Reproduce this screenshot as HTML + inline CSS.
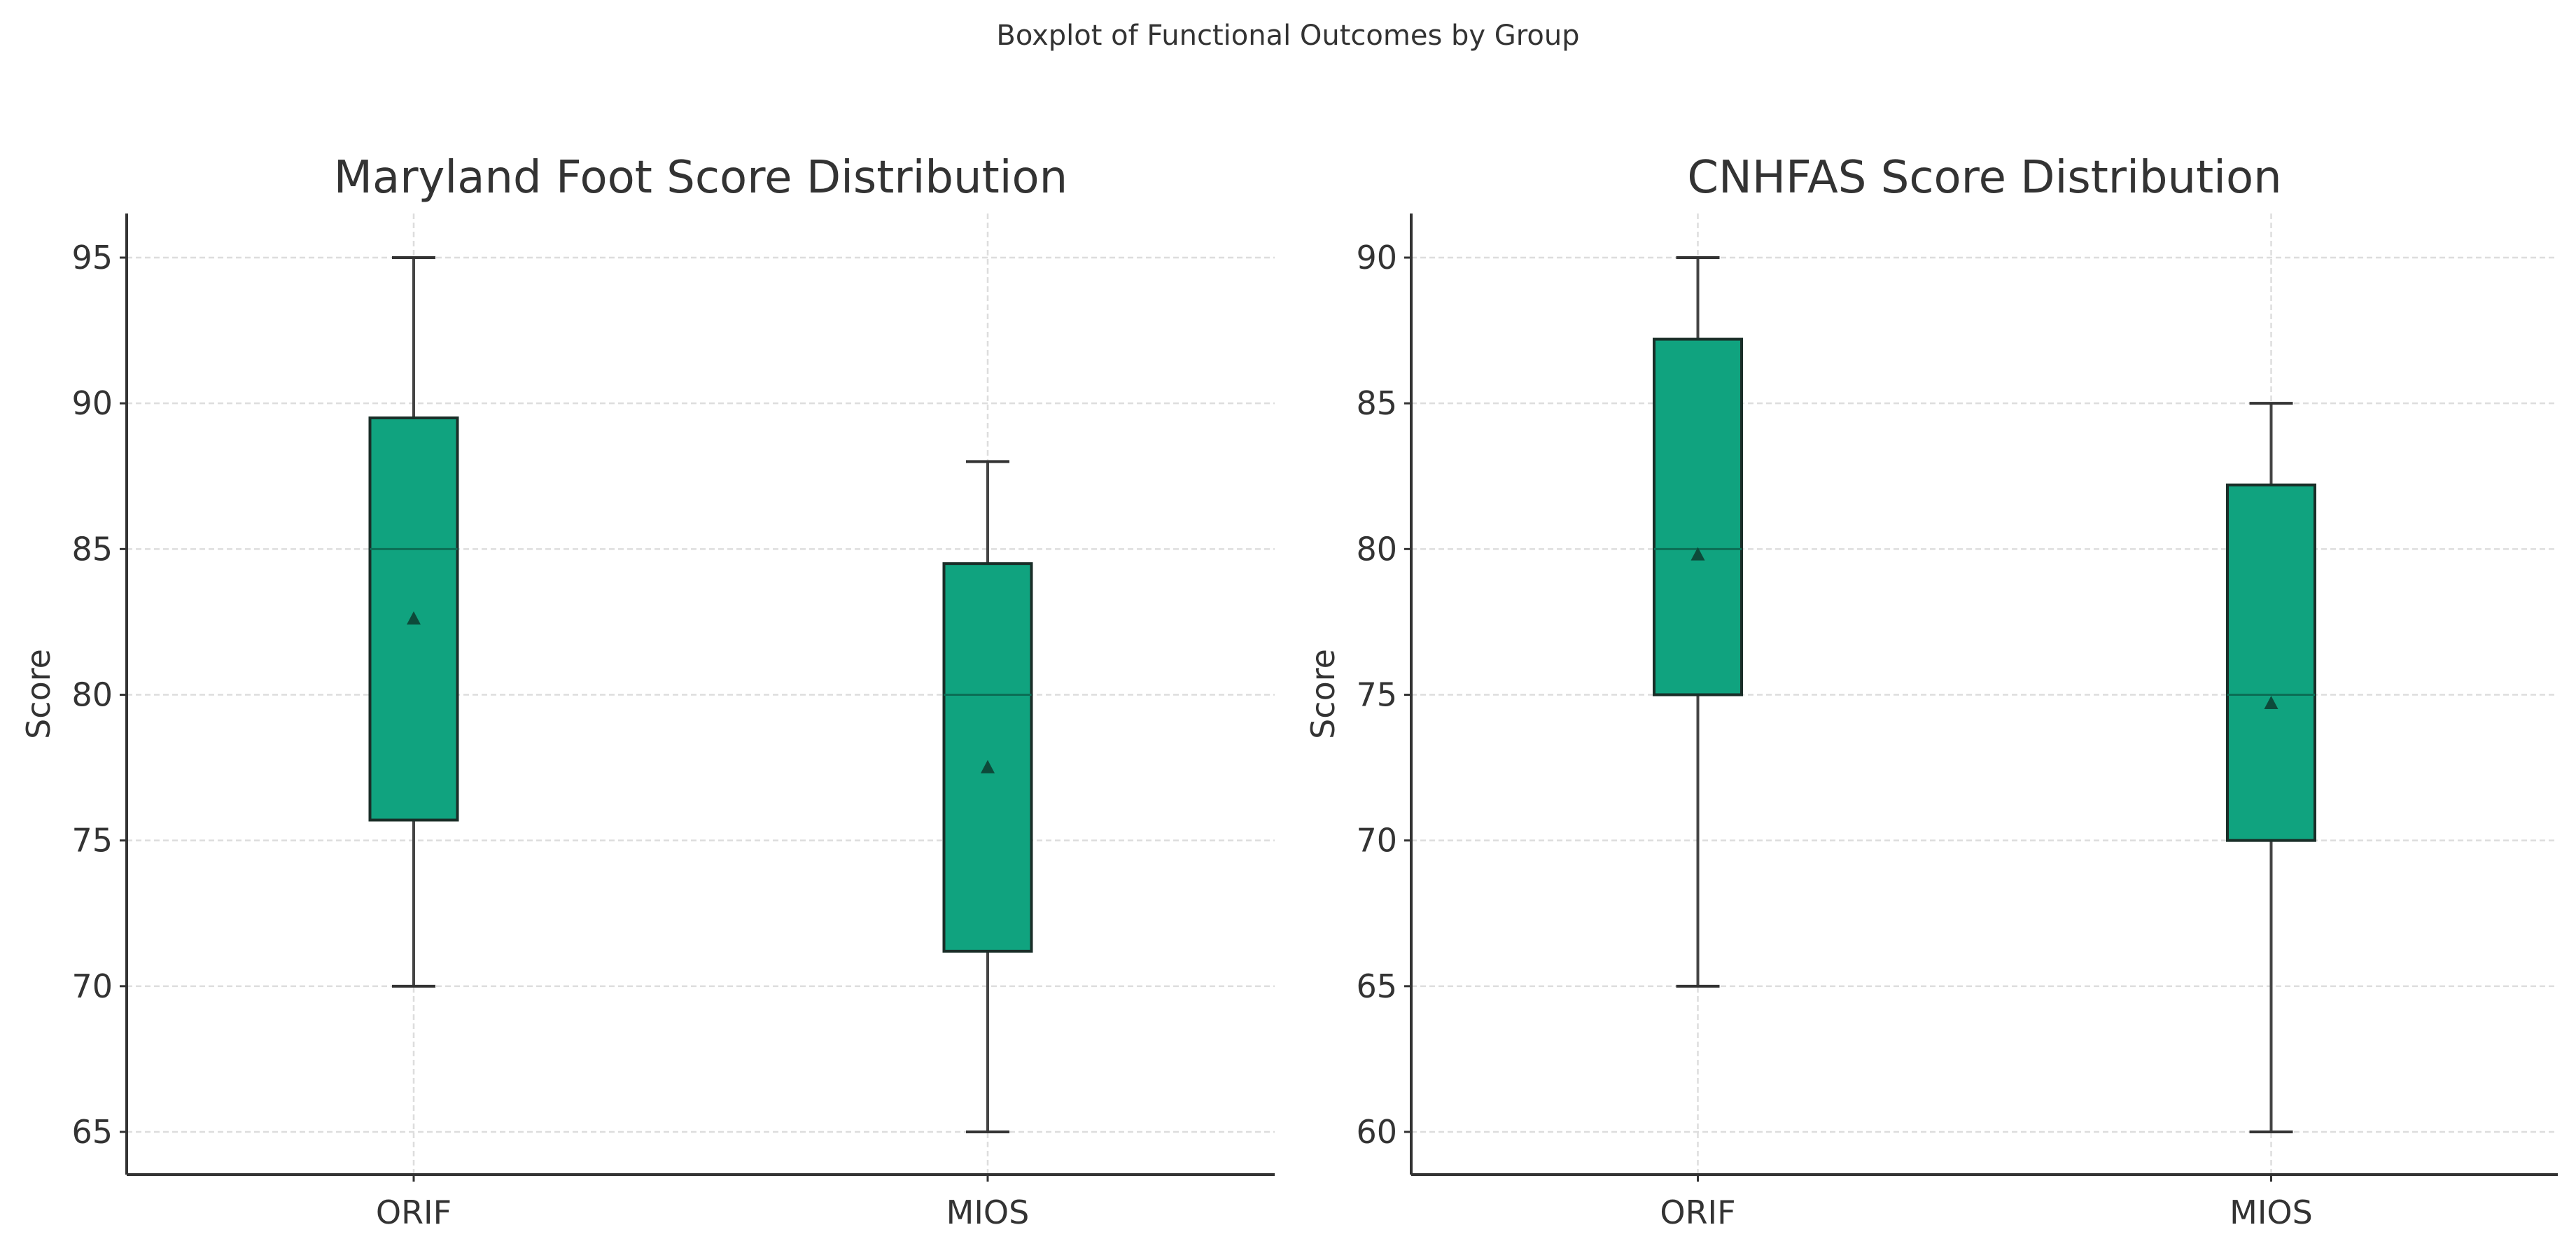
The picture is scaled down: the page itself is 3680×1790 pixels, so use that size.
<!DOCTYPE html>
<html><head><meta charset="utf-8"><style>
html,body{margin:0;padding:0;background:#fff;}
svg{display:block;font-family:"DejaVu Sans","Liberation Sans",sans-serif;}
</style></head><body>
<svg id="chart" width="3680" height="1790" viewBox="0 0 3680 1790">
<text x="1840" y="64" font-size="40" fill="#333" text-anchor="middle">Boxplot of Functional Outcomes by Group</text>
</svg>
<script>
const categories = ["ORIF", "MIOS"];
const titles = ["Maryland Foot Score Distribution", "CNHFAS Score Distribution"];
const mfsWhiskerLow = [70, 65];
const mfsQ1 = [75.7, 71.2];
const mfsMedian = [85, 80];
const mfsQ3 = [89.5, 84.5];
const mfsWhiskerHigh = [95, 88];
const mfsMean = [82.6, 77.5];
const cnWhiskerLow = [65, 60];
const cnQ1 = [75, 70];
const cnMedian = [80, 75];
const cnQ3 = [87.2, 82.2];
const cnWhiskerHigh = [90, 85];
const cnMean = [79.8, 74.7];
const mfsTicks = [65, 70, 75, 80, 85, 90, 95];
const cnTicks = [60, 65, 70, 75, 80, 85, 90];

const NS = "http://www.w3.org/2000/svg";
const svg = document.getElementById("chart");
function mk(tag, attrs, parent) {
  const e = document.createElementNS(NS, tag);
  for (const k in attrs) e.setAttribute(k, attrs[k]);
  (parent || svg).appendChild(e);
  return e;
}

function panel(idx, left, right, ticks, lo, q1, med, q3, hi, mean) {
  const g = mk("g", {});
  
  
  const top = 305, bottom = 1678;
  const maxT = ticks[ticks.length - 1], minT = ticks[0];
  const yTop = 368, yBot = 1617;
  const y = v => yBot - (v - minT) / (maxT - minT) * (yBot - yTop);
  const w = right - left;
  const x = i => left + w * (0.25 + 0.5 * i);

  // grid
  ticks.forEach(t => {
    const gl = mk("line", {x1: left, x2: right, y1: y(t), y2: y(t), stroke: "#ddd", "stroke-width": 2.5, "stroke-dasharray": "8,5"}, g);
    
    
    const tk = mk("line", {x1: left - 10, x2: left, y1: y(t), y2: y(t), stroke: "#333", "stroke-width": 3}, g);
    
    
    const lb = mk("text", {x: left - 20, y: y(t) + 16, "font-size": 46, fill: "#333", "text-anchor": "end"}, g);
    lb.textContent = t;
    
    
  });
  categories.forEach((c, i) => {
    const gl = mk("line", {x1: x(i), x2: x(i), y1: top, y2: bottom, stroke: "#ddd", "stroke-width": 2.5, "stroke-dasharray": "8,5"}, g);
    
    
    const tk = mk("line", {x1: x(i), x2: x(i), y1: bottom, y2: bottom + 10, stroke: "#333", "stroke-width": 3}, g);
    
    
    const lb = mk("text", {x: x(i), y: bottom + 70, "font-size": 46, fill: "#333", "text-anchor": "middle"}, g);
    lb.textContent = c;
    
    
  });
  // spines
  const sl = mk("line", {x1: left, x2: left, y1: top, y2: bottom, stroke: "#333", "stroke-width": 4}, g);
  
  
  const sb = mk("line", {x1: left, x2: right, y1: bottom, y2: bottom, stroke: "#333", "stroke-width": 4}, g);
  
  

  // boxes
  const bw = 125, cw = 62;
  categories.forEach((c, i) => {
    const cx = x(i);
    const bg = mk("g", {}, g);
    
    
    mk("line", {x1: cx, x2: cx, y1: y(hi[i]), y2: y(q3[i]), stroke: "#444", "stroke-width": 4}, bg);
    mk("line", {x1: cx, x2: cx, y1: y(q1[i]), y2: y(lo[i]), stroke: "#444", "stroke-width": 4}, bg);
    mk("line", {x1: cx - cw/2, x2: cx + cw/2, y1: y(hi[i]), y2: y(hi[i]), stroke: "#333", "stroke-width": 4}, bg);
    mk("line", {x1: cx - cw/2, x2: cx + cw/2, y1: y(lo[i]), y2: y(lo[i]), stroke: "#333", "stroke-width": 4}, bg);
    mk("rect", {x: cx - bw/2, y: y(q3[i]), width: bw, height: y(q1[i]) - y(q3[i]), fill: "#10a37f", stroke: "#1a2e28", "stroke-width": 4}, bg);
    const md = mk("line", {x1: cx - bw/2, x2: cx + bw/2, y1: y(med[i]), y2: y(med[i]), stroke: "#0b6e55", "stroke-width": 3}, bg);
    
    
    const my = y(mean[i]);
    const mm = mk("polygon", {points: `${cx},${my-11} ${cx-10},${my+8} ${cx+10},${my+8}`, fill: "#0d4a3a"}, bg);
    
    
  });

  const tt = mk("text", {x: (left + right) / 2, y: 275, "font-size": 64, fill: "#333", "text-anchor": "middle"}, g);
  tt.textContent = titles[idx];
  
  
  const yl = mk("text", {x: left - 110, y: (top + bottom) / 2, "font-size": 46, fill: "#333", "text-anchor": "middle", transform: `rotate(-90 ${left - 110} ${(top + bottom) / 2})`}, g);
  yl.textContent = "Score";
  
  
}

panel(0, 181, 1821, mfsTicks, mfsWhiskerLow, mfsQ1, mfsMedian, mfsQ3, mfsWhiskerHigh, mfsMean);
panel(1, 2016, 3654, cnTicks, cnWhiskerLow, cnQ1, cnMedian, cnQ3, cnWhiskerHigh, cnMean);
</script>
</body></html>
